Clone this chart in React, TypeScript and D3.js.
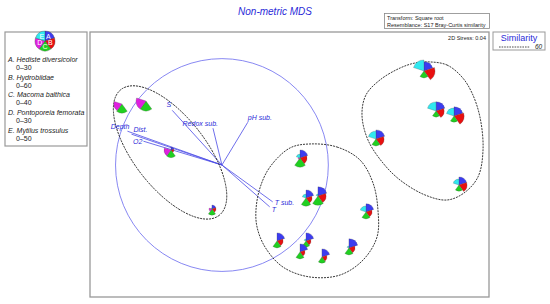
import React from "react";
import * as d3 from "d3";

// Species (segments), in legend order
const speciesKeys = ["A", "B", "C", "D", "E"];
const speciesNames = ["Hediste diversicolor", "Hydrobiidae", "Macoma balthica", "Pontoporeia femorata", "Mytilus trossulus"];
const speciesMax = [30, 60, 40, 30, 50];
const speciesColors = ["#3c3cf0", "#e81010", "#20d020", "#e020e0", "#30e8f0"];

// Samples: MDS coordinates
const sampleX = [-1.26, -1.079, -0.891, -0.583, 0.079, 0.124, 0.214, 0.575, -0.094, 0.124, 0.079, 0.244, 0.447, 1.011, 1.102, 1.237, 1.274, 0.65];
const sampleY = [0.457, 0.479, 0.109, -0.336, 0.049, -0.253, -0.238, -0.358, -0.577, -0.577, -0.66, -0.698, -0.63, 0.706, 0.404, 0.366, -0.155, 0.192];
// Species abundances per sample (sqrt-scaled display)
const valA = [0, 0, 8, 11, 22, 22, 25, 22, 22, 22, 22, 22, 25, 25, 25, 25, 22, 25];
const valB = [0, 0, 16, 22, 38, 33, 44, 33, 33, 27, 27, 27, 33, 60, 44, 55, 44, 44];
const valC = [33, 36, 27, 22, 33, 29, 33, 25, 25, 22, 25, 22, 25, 25, 22, 22, 22, 25];
const valD = [22, 27, 19, 8, 5, 0, 0, 0, 0, 0, 0, 0, 0, 0, 0, 0, 0, 0];
const valE = [0, 0, 0, 5, 18, 18, 9, 27, 0, 9, 0, 0, 9, 50, 41, 36, 27, 36];

// Environmental vectors (correlations)
const vecNames = ["S", "Redox sub.", "pH sub.", "Depth", "Dist.", "O2", "T sub.", "T"];
const vecX = [-0.467, -0.084, 0.243, -0.888, -0.85, -0.738, 0.477, 0.449];
const vecY = [0.514, 0.346, 0.402, 0.318, 0.29, 0.224, -0.346, -0.393];
const vecOrigin = [-0.508, -0.004];
const circleRadius = 0.8;

// Similarity 60 contours
const leftContour = { cx: -0.898, cy: 0.091, a: 0.6, b: 0.27, angle: 52 };
const midContourX = [0.154, 0.357, 0.53, 0.628, 0.665, 0.658, 0.553, 0.38, 0.154, -0.049, -0.184, -0.244, -0.252, -0.222, -0.147, 0.004];
const midContourY = [0.155, 0.132, 0.034, -0.14, -0.343, -0.547, -0.721, -0.834, -0.849, -0.774, -0.623, -0.472, -0.343, -0.177, -0.019, 0.125];
const rightContourX = [1.056, 1.184, 1.297, 1.372, 1.432, 1.455, 1.417, 1.312, 1.184, 1.019, 0.831, 0.703, 0.59, 0.545, 0.575, 0.68, 0.831, 0.944];
const rightContourY = [0.774, 0.751, 0.66, 0.54, 0.358, 0.109, -0.094, -0.215, -0.268, -0.23, -0.117, 0.011, 0.185, 0.374, 0.525, 0.638, 0.728, 0.766];

const FONT = "'Liberation Sans', Arial, sans-serif";
const BLUE = "#2a2ad8";

// label placement for vectors (anchor, dx, dy)
const vecLabelPlace: [string, number, number][] = [
  ["end", -1, -3],
  ["end", 5, -2],
  ["start", 0, -2],
  ["end", 2, -2],
  ["start", 2, -2],
  ["end", -1, 3],
  ["start", 2, 3],
  ["start", 2, 5],
];

export default function App() {
  const box = { x0: 90, x1: 489, y0: 32, y1: 297 };
  const xs = d3.scaleLinear().domain([-1.5, 1.5]).range([box.x0, box.x1]);
  const ys = d3.scaleLinear().domain([-1, 1]).range([box.y1, box.y0]);
  const unit = xs(1) - xs(0);
  const glyphR = 11;
  const rScales = speciesMax.map((m) => d3.scaleLinear().domain([0, m]).range([0, glyphR]));
  const seg = (2 * Math.PI) / 5;
  const arc = d3.arc<any>();
  const vals = [valA, valB, valC, valD, valE];

  const ox = xs(vecOrigin[0]);
  const oy = ys(vecOrigin[1]);
  const vr = circleRadius * unit;

  const closedLine = d3
    .line<[number, number]>()
    .x((d) => xs(d[0]))
    .y((d) => ys(d[1]))
    .curve(d3.curveCatmullRomClosed.alpha(0.5));

  const midPts = midContourX.map((x, i) => [x, midContourY[i]] as [number, number]);
  const rightPts = rightContourX.map((x, i) => [x, rightContourY[i]] as [number, number]);

  const legendCx = 45;
  const legendCy = 41;

  return (
    <svg width={550} height={304} style={{ position: "absolute", left: 0, top: 0, background: "#fff" }} fontFamily={FONT}>
      {/* Title */}
      <text x={275} y={15} textAnchor="middle" fontSize={10} fontStyle="italic" fill={BLUE}>
        Non-metric MDS
      </text>
      {/* Transform box */}
      <rect x={384.5} y={13.5} width={105} height={15} fill="#fff" stroke="#888" strokeWidth={0.8} />
      <text x={387} y={20} fontSize={5.5} fill="#222">Transform: Square root</text>
      <text x={387} y={26.5} fontSize={5.5} fill="#222">Resemblance: S17 Bray-Curtis similarity</text>

      {/* Legend box */}
      <rect x={5} y={32} width={82} height={114} fill="#fff" stroke="#999" strokeWidth={1.2} />
      {speciesKeys.map((k, i) => (
        <path
          key={"lg" + k}
          transform={`translate(${legendCx},${legendCy})`}
          d={arc({ innerRadius: 0, outerRadius: 10, startAngle: i * seg, endAngle: (i + 1) * seg }) || ""}
          fill={speciesColors[i]}
          stroke="#333"
          strokeWidth={0.3}
        />
      ))}
      {speciesKeys.map((k, i) => {
        const a = (i + 0.5) * seg;
        return (
          <text
            key={"lgt" + k}
            x={legendCx + Math.sin(a) * 5.5}
            y={legendCy - Math.cos(a) * 5.5 + 2.5}
            textAnchor="middle"
            fontSize={7}
            fill="#fff"
          >
            {k}
          </text>
        );
      })}
      {speciesKeys.map((k, i) => (
        <g key={"lgn" + k}>
          <text x={8} y={62 + i * 17.7} fontSize={7} fontStyle="italic" fill="#222">
            {k}.  {speciesNames[i]}
          </text>
          <text x={16} y={70 + i * 17.7} fontSize={7} fill="#222">
            {"0\u2013" + speciesMax[i]}
          </text>
        </g>
      ))}

      {/* Main box */}
      <rect x={box.x0} y={box.y0} width={box.x1 - box.x0} height={box.y1 - box.y0} fill="#fff" stroke="#999" strokeWidth={1.3} />
      <text x={486} y={40} textAnchor="end" fontSize={5.5} fill="#222">2D Stress: 0.04</text>

      {/* Similarity box */}
      <rect x={493} y={32} width={52} height={18} fill="#fff" stroke="#999" strokeWidth={1} />
      <text x={519} y={41} textAnchor="middle" fontSize={9} fill={BLUE}>Similarity</text>
      <line x1={499} x2={530} y1={47} y2={47} stroke="#222" strokeWidth={0.8} strokeDasharray="1.6,1" />
      <text x={535} y={49} fontSize={6.5} fontStyle="italic" fill="#222">60</text>

      {/* Correlation circle */}
      <circle cx={ox} cy={oy} r={vr} fill="none" stroke="#7b7bf0" strokeWidth={0.9} />
      {vecNames.map((n, i) => (
        <line key={"v" + n} x1={ox} y1={oy} x2={ox + vecX[i] * vr} y2={oy - vecY[i] * vr} stroke="#4a4ae6" strokeWidth={0.8} />
      ))}

      {/* Contours */}
      <ellipse
        cx={xs(leftContour.cx)}
        cy={ys(leftContour.cy)}
        rx={leftContour.a * unit}
        ry={leftContour.b * unit}
        transform={`rotate(${leftContour.angle} ${xs(leftContour.cx)} ${ys(leftContour.cy)})`}
        fill="none"
        stroke="#222"
        strokeWidth={0.9}
        strokeDasharray="2,1"
      />
      <path d={closedLine(midPts) || ""} fill="none" stroke="#222" strokeWidth={0.9} strokeDasharray="2,1" />
      <path d={closedLine(rightPts) || ""} fill="none" stroke="#222" strokeWidth={0.9} strokeDasharray="2,1" />

      {/* Glyphs */}
      {sampleX.map((sx, j) => (
        <g key={"g" + j} transform={`translate(${xs(sx)},${ys(sampleY[j])})`}>
          {speciesKeys.map((k, i) => {
            const v = vals[i][j];
            if (v <= 0) return null;
            return (
              <path
                key={k}
                d={arc({ innerRadius: 0, outerRadius: rScales[i](v), startAngle: i * seg, endAngle: (i + 1) * seg }) || ""}
                fill={speciesColors[i]}
                stroke="#444"
                strokeWidth={0.25}
              />
            );
          })}
        </g>
      ))}

      {/* Vector labels */}
      {vecNames.map((n, i) => (
        <text
          key={"vl" + n}
          x={ox + vecX[i] * vr + vecLabelPlace[i][1]}
          y={oy - vecY[i] * vr + vecLabelPlace[i][2]}
          textAnchor={vecLabelPlace[i][0] as any}
          fontSize={7}
          fontStyle="italic"
          fill={BLUE}
        >
          {n}
        </text>
      ))}
    </svg>
  );
}
